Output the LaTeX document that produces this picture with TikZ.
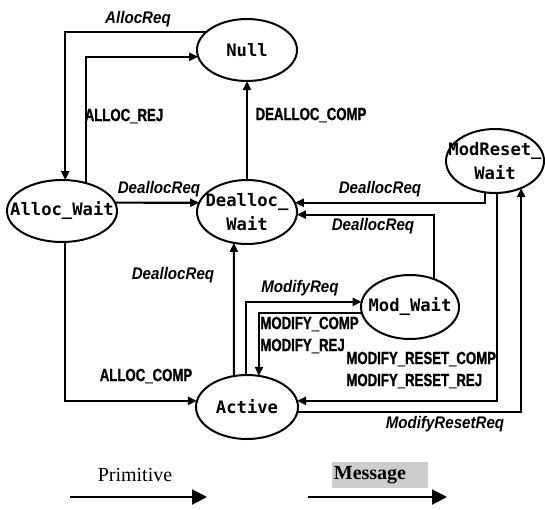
\documentclass[tikz,border=0pt]{standalone}
\usepackage{fontspec}
\setmainfont{Liberation Serif}
\newfontfamily\nodefont{DejaVu Sans Mono}
\newfontfamily\capfont[FakeStretch=0.75,FakeBold=1.2]{Liberation Sans Bold}
\newfontfamily\itfont[FakeStretch=0.9]{Liberation Sans Bold Italic}
\usetikzlibrary{arrows.meta,shapes.geometric}
\newcommand{\zw}[1]{\makebox[0pt]{#1}}
\begin{document}
\begin{tikzpicture}[x=0.5pt,y=-0.5pt,
  state/.style={draw, ellipse, line width=1pt, inner sep=0pt, outer sep=0pt,
    font=\nodefont\bfseries\fontsize{8.6}{12}\selectfont, align=center},
  conn/.style={line width=1.1pt, -{Triangle[length=4.5pt,width=4pt]}},
  legarrow/.style={line width=1.1pt, -{Triangle[length=7.5pt,width=7.5pt]}},
  caplbl/.style={font=\capfont\fontsize{8.8}{10}\selectfont, inner sep=0pt},
  itlbl/.style={font=\itfont\fontsize{8.4}{10}\selectfont, inner sep=0pt},
]
\useasboundingbox (0,0) rectangle (545,509);

% states
\node[state, minimum width=50pt, minimum height=31pt] (Null) at (247,50) {\zw{Null}};
\node[state, minimum width=55pt, minimum height=31pt] (AW) at (62,211) {\zw{Alloc\_Wait}};
\node[state, minimum width=50pt, minimum height=32pt] (DW) at (247,212) {\zw{Dealloc\_}\\\zw{Wait}};
\node[state, minimum width=49pt, minimum height=32pt] (MR) at (495,161) {\zw{ModReset\_}\\\zw{Wait}};
\node[state, minimum width=49pt, minimum height=32pt] (MW) at (410,307) {\zw{Mod\_Wait}};
\node[state, minimum width=51pt, minimum height=32pt] (Act) at (247,407) {\zw{Active}};

% connectors
\draw[conn] (Null.156) -| (AW.84);
\draw[conn] (AW.49) |- (Null.188);
\draw[conn] (DW.north) -- (Null.south);
\draw[conn] (AW.9) -- (DW.169);
\draw[conn] (MR.252) |- (DW.11);
\draw[conn] (MW.49) |- (DW.357);
\draw[conn] (Act.113) -- (DW.247);
\draw[conn] (Act.92) |- (MW.174);
\draw[conn] (MW.187) -| (Act.69);
\draw[conn] (MR.274) |- (Act.7);
\draw[conn] (Act.354) -| (MR.314);
\draw[conn] (AW.276) |- (Act.173);

% labels
\node[itlbl] (lAllocReq) at (138,19) {AllocReq};
\node[caplbl] (lAllocRej) at (124,116) {ALLOC\_REJ};
\node[caplbl] (lDeallocComp) at (311,115) {DEALLOC\_COMP};
\node[itlbl] (lDR1) at (159,189) {DeallocReq};
\node[itlbl] (lDR2) at (380,189) {DeallocReq};
\node[itlbl] (lDR3) at (373,226) {DeallocReq};
\node[itlbl] (lDR4) at (173,275) {DeallocReq};
\node[itlbl] (lModReq) at (300,288) {ModifyReq};
\node[caplbl, anchor=west] (lModComp) at (260,324) {MODIFY\_COMP};
\node[caplbl, anchor=west] (lModRej) at (260,346) {MODIFY\_REJ};
\node[caplbl, anchor=west] (lMRComp) at (346,359) {MODIFY\_RESET\_COMP};
\node[caplbl, anchor=west] (lMRRej) at (346,381) {MODIFY\_RESET\_REJ};
\node[caplbl] (lAllocComp) at (146,376) {ALLOC\_COMP};
\node[itlbl] (lMRReq) at (445,424) {ModifyResetReq};

% legend
\node[font=\fontsize{10}{12}\selectfont, inner sep=0pt] (prim) at (135,475) {Primitive};
\fill[black!20] (332,462) rectangle (428,488);
\node[font=\bfseries\fontsize{10}{12}\selectfont, inner sep=0pt] (msg) at (370,475) {Message};
\coordinate (pa1) at (70,497);
\coordinate (pa2) at (207,497);
\coordinate (ma1) at (308,497);
\coordinate (ma2) at (447,497);
\draw[legarrow] (pa1) -- (pa2);
\draw[legarrow] (ma1) -- (ma2);
\end{tikzpicture}
\end{document}
